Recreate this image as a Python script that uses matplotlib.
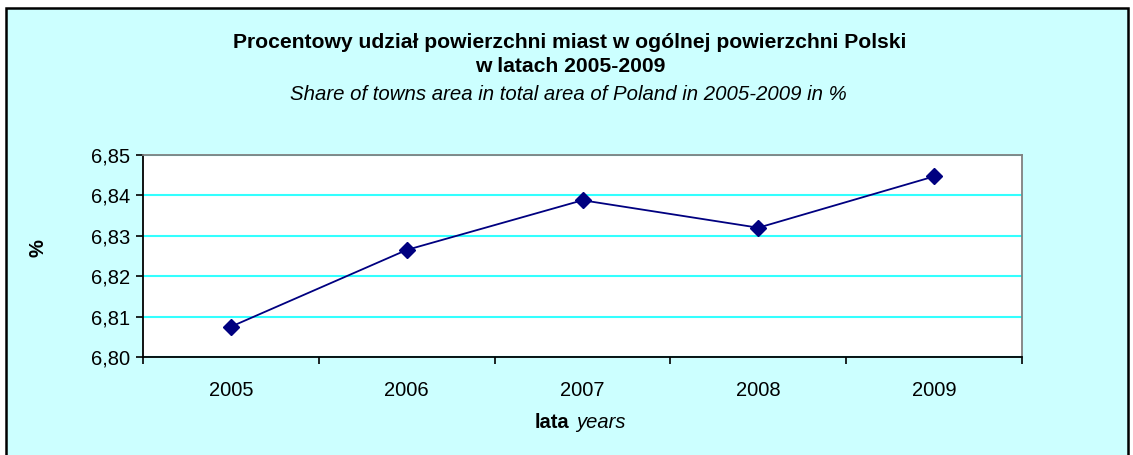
import matplotlib
matplotlib.use("Agg")
import matplotlib.pyplot as plt
from matplotlib.patches import Rectangle
from matplotlib.ticker import FixedLocator

years = ["2005", "2006", "2007", "2008", "2009"]
values = [6.8075, 6.8265, 6.8388, 6.8320, 6.8447]
yticks = [6.80, 6.81, 6.82, 6.83, 6.84, 6.85]

plt.rcParams['font.family'] = ['Liberation Sans', 'DejaVu Sans']

fig = plt.figure(figsize=(11.33, 4.55), dpi=100)
fig.patch.set_facecolor('white')
bg = '#CCFFFF'
fig.patches.append(Rectangle((6/1133, -0.01), (1128-6)/1133, (455-8)/455 + 0.01,
                             transform=fig.transFigure, facecolor=bg,
                             edgecolor='black', linewidth=1.8, zorder=-10))

ax = fig.add_axes([143/1133, 1-357/455, (1022-143)/1133, (357-155)/455])
ax.set_facecolor('white')
x = list(range(len(years)))
ax.plot(x, values, color='#000080', linewidth=1.3, marker='D', markersize=8,
        markerfacecolor='#000080', markeredgecolor='#000080', zorder=3)
ax.set_xlim(-0.5, len(years) - 0.5)
ax.set_ylim(yticks[0], yticks[-1])
ax.set_yticks(yticks)
ax.set_yticklabels([f"{v:.2f}".replace('.', ',') for v in yticks], fontsize=14.5)
ax.yaxis.grid(True, color='#33FFFF', linewidth=1.5)
ax.set_axisbelow(True)

ax.set_xticks(x)
ax.set_xticklabels(years, fontsize=14.5)
ax.tick_params(axis='x', which='major', length=0, pad=17)
ax.xaxis.set_minor_locator(FixedLocator([i - 0.5 for i in range(len(years) + 1)]))
ax.tick_params(axis='x', which='minor', length=5, width=1.2, direction='out', color='black')
ax.tick_params(axis='y', length=5, width=1.2, direction='out', pad=4)

for s in ['left', 'bottom']:
    ax.spines[s].set_color('black')
    ax.spines[s].set_linewidth(1.3)
for s in ['top', 'right']:
    ax.spines[s].set_color('#808080')
    ax.spines[s].set_linewidth(1.3)

fig.text(38/1133, 1-248/455, '%', rotation=90, fontsize=14.5, fontweight='bold',
         ha='center', va='center')
fig.text(570/1133, 1-43/455, 'Procentowy udział powierzchni miast w ogólnej powierzchni Polski',
         fontsize=15.2, fontweight='bold', ha='center', va='center')
fig.text(570/1133, 1-67/455, 'w latach 2005-2009',
         fontsize=15.2, fontweight='bold', ha='center', va='center')
fig.text(568/1133, 1-95/455, 'Share of towns area in total area of Poland in 2005-2009 in %',
         fontsize=14.7, fontstyle='italic', ha='center', va='center')

fig.text(569/1133, 1-423/455, 'lata', fontsize=14.5, fontweight='bold', ha='right', va='center')
fig.text(576/1133, 1-423/455, 'years', fontsize=14.5, fontstyle='italic', ha='left', va='center')

fig.savefig('out.png', dpi=100, facecolor=fig.get_facecolor())
